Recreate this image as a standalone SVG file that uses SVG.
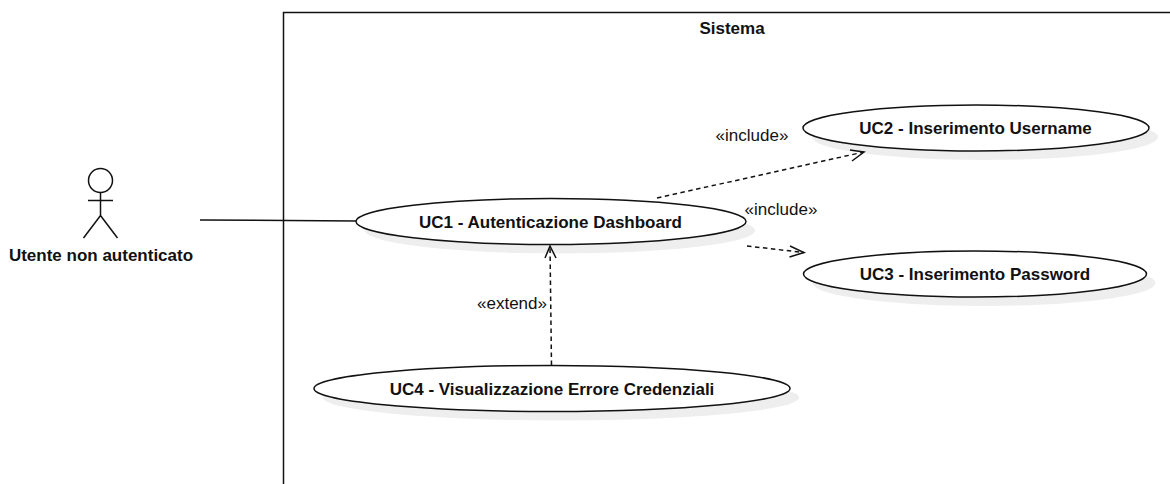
<svg xmlns="http://www.w3.org/2000/svg" width="1170" height="484" viewBox="0 0 1170 484">
<style>
text{font-family:"Liberation Sans",Arial,sans-serif;fill:#111;text-anchor:middle}
.n{font-size:17px;font-weight:bold}
.l{font-size:17px}
.e{fill:#fff;stroke:#111;stroke-width:1.5}
.s{fill:#eee;stroke:none}
.a{fill:none;stroke:#111;stroke-width:1.5}
.d{stroke-dasharray:4.500 3.500}
</style>
<rect width="1170" height="484" fill="#fff"/>
<g id="system">
<path class="a" d="M283.500 484V12.500H1170"/>
<text class="n" x="732" y="34">Sistema</text>
</g>
<g id="actor">
<circle class="a" cx="100.500" cy="180.500" r="12"/>
<path class="a" d="M100.500 192.500V215.500M88 200.500H113M83.500 238L100.500 215.500L117.500 238"/>
<text class="n" x="101" y="261">Utente non autenticato</text>
</g>
<g id="uc1">
<ellipse class="s" cx="560" cy="230.500" rx="195" ry="23"/>
<ellipse class="e" cx="551" cy="221.500" rx="195" ry="23"/>
<text class="n" x="550.500" y="228">UC1 - Autenticazione Dashboard</text>
</g>
<g id="uc2">
<ellipse class="s" cx="985" cy="137" rx="173" ry="23"/>
<ellipse class="e" cx="976" cy="128" rx="173" ry="23"/>
<text class="n" x="975.500" y="134">UC2 - Inserimento Username</text>
</g>
<g id="uc3">
<ellipse class="s" cx="984" cy="283" rx="171.500" ry="23"/>
<ellipse class="e" cx="975" cy="274" rx="171.500" ry="23"/>
<text class="n" x="975" y="280">UC3 - Inserimento Password</text>
</g>
<g id="uc4">
<ellipse class="s" cx="561" cy="397.500" rx="238" ry="23"/>
<ellipse class="e" cx="552" cy="388.500" rx="238" ry="23"/>
<text class="n" x="552" y="395">UC4 - Visualizzazione Errore Credenziali</text>
</g>
<g id="connectors">
<path class="a" d="M200 220L356 221"/>
<path class="a d" d="M657 198L864 152"/>
<path class="a" d="M850 150L864 152L852 161"/>
<path class="a d" d="M747 246L804 252.500"/>
<path class="a" d="M790 246L804 252.500L789.500 257"/>
<path class="a d" d="M551.500 365L550 246"/>
<path class="a" d="M545 258L550 246L556 258"/>
<text class="l" x="752" y="141">«include»</text>
<text class="l" x="781" y="215">«include»</text>
<text class="l" x="512" y="309">«extend»</text>
</g>
</svg>
